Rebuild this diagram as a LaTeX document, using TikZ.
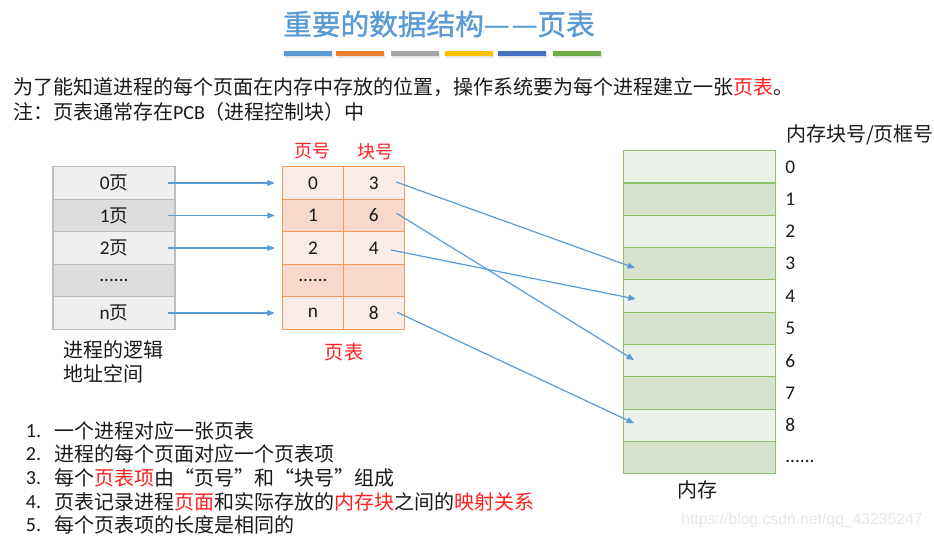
\documentclass[tikz,border=0pt]{standalone}
\usepackage{fontspec}
\setmainfont{Carlito}
\newfontfamily\cjk{Noto Sans CJK SC}
\newfontfamily\cjktitle[FakeBold=1.2]{Noto Sans CJK SC}
\newfontfamily\wmfont{Liberation Sans}
\usetikzlibrary{arrows.meta,calc}
\definecolor{tblue}{HTML}{5B9BD5}
\definecolor{barA}{HTML}{5B9BD5}
\definecolor{barB}{HTML}{ED7D31}
\definecolor{barC}{HTML}{A5A5A5}
\definecolor{barD}{HTML}{FFC000}
\definecolor{barE}{HTML}{4472C4}
\definecolor{barF}{HTML}{70AD47}
\definecolor{llight}{HTML}{EFEFEF}
\definecolor{ldark}{HTML}{DDDDDD}
\definecolor{lborder}{HTML}{BDBDBD}
\definecolor{plight}{HTML}{FBECE7}
\definecolor{pdark}{HTML}{F8D8CB}
\definecolor{pborder}{HTML}{F09A5C}
\definecolor{mlight}{HTML}{EBF0E8}
\definecolor{mdark}{HTML}{D7E3CE}
\definecolor{mborder}{HTML}{8DC26A}
\definecolor{txt}{HTML}{1A1A1A}
\definecolor{hred}{HTML}{FF2020}
\begin{document}
\begin{tikzpicture}[x=0.75pt,y=-0.75pt,
  body/.style={inner sep=0pt, outer sep=0pt, text=txt, font=\fontsize{15}{18}\selectfont},
  cellL/.style={draw=lborder, line width=0.8pt, minimum width=91.5pt, minimum height=24.4pt,
    inner sep=0pt, outer sep=0pt, text=txt, font=\fontsize{14.5}{14.5}\selectfont},
  cellP/.style={draw=pborder, line width=0.8pt, minimum width=45.6pt, minimum height=24.4pt,
    inner sep=0pt, outer sep=0pt, text=txt, font=\fontsize{14.5}{14.5}\selectfont},
  cellM/.style={draw=mborder, line width=0.8pt, minimum width=114.3pt, minimum height=24.2pt,
    inner sep=0pt, outer sep=0pt},
  memnum/.style={anchor=west, inner sep=0pt, text=txt, font=\fontsize{14.5}{14.5}\selectfont},
  redlbl/.style={inner sep=0pt, text=hred, font=\cjk\fontsize{13.5}{14}\selectfont},
  conn/.style={draw=tblue, line width=0.9pt, -{Triangle[length=5.5pt,width=4.5pt]}}
]
\useasboundingbox (0,0) rectangle (934,540);
\fill[white] (0,0) rectangle (934,540);

% title
\node[inner sep=0pt, text=tblue, font=\cjktitle\fontsize{21.5}{24}\selectfont] (title) at (439,24) {重要的数据结构—\hspace{0.08em}—页表};
% colour bars
\foreach \a/\b/\c in {284/332/barA, 336/384/barB, 391/439/barC, 445/493/barD, 498/546/barE, 553/601/barF}{
  \fill[black!10] (\a+1,52.5) rectangle (\b+1,57.5);
  \fill[\c] (\a,50.5) rectangle (\b,55.5);
}

% intro text
\node[body, anchor=west] (intro1) at (13,87.5) {\cjk 为了能知道进程的每个页面在内存中存放的位置，操作系统要为每个进程建立一张{\color{hred}页表}。};
\node[body, anchor=west] (intro2) at (13,111.5) {{\cjk 注：页表通常存在}PCB{\cjk （进程控制块）中}};

% logical address space
\node[cellL, fill=llight] (L0) at (114,183)   {0{\cjk\fontsize{14}{14}\selectfont 页}};
\node[cellL, fill=ldark]  (L1) at (114,215.5) {1{\cjk\fontsize{14}{14}\selectfont 页}};
\node[cellL, fill=llight] (L2) at (114,248)   {2{\cjk\fontsize{14}{14}\selectfont 页}};
\node[cellL, fill=ldark]  (L3) at (114,280.5) {......};
\node[cellL, fill=llight] (L4) at (114,313)   {n{\cjk\fontsize{14}{14}\selectfont 页}};
\node[body, anchor=west, align=left] (lname) at (63,362) {\cjk 进程的逻辑\\\cjk 地址空间};

% page table
\node[redlbl] (hpage) at (312,151.5) {页号};
\node[redlbl] (hblock) at (375,151.5) {块号};
\node[cellP, fill=plight] (P0) at (313,183)   {0};
\node[cellP, fill=plight] (B0) at (373.8,183) {3};
\node[cellP, fill=pdark]  (P1) at (313,215.5)   {1};
\node[cellP, fill=pdark]  (B1) at (373.8,215.5) {6};
\node[cellP, fill=plight] (P2) at (313,248)   {2};
\node[cellP, fill=plight] (B2) at (373.8,248) {4};
\node[cellP, fill=pdark]  (P3) at (313,280.5)   {......};
\node[cellP, fill=pdark]  (B3) at (373.8,280.5) {};
\node[cellP, fill=plight] (P4) at (313,313)   {n};
\node[cellP, fill=plight] (B4) at (373.8,313) {8};
\node[inner sep=0pt, text=hred, font=\cjk\fontsize{14.5}{15}\selectfont] (ptname) at (344,352) {页表};

% memory
\foreach \i/\c in {0/mlight,1/mdark,2/mlight,3/mdark,4/mlight,5/mdark,6/mlight,7/mdark,8/mlight,9/mdark}{
  \node[cellM, fill=\c] (M\i) at (699.5,{150.7+32.3*(\i+0.5)}) {};
}
\foreach \i in {0,...,8}{
  \node[memnum] (N\i) at (785,{150.7+32.3*(\i+0.5)}) {\i};
}
\node[memnum] (N9) at (785,461) {......};
\node[body, anchor=west] (memhead) at (786,135) {\cjk 内存块号/页框号};
\node[body] (memname) at (697,490) {\cjk 内存};

% arrows: logical pages -> page table
\draw[conn] ($(L0.east)+(-7,0)$) -- ($(P0.west)+(-8,0)$);
\draw[conn] ($(L1.east)+(-7,0)$) -- ($(P1.west)+(-8,0)$);
\draw[conn] ($(L2.east)+(-7,0)$) -- ($(P2.west)+(-8,0)$);
\draw[conn] ($(L4.east)+(-7,0)$) -- ($(P4.west)+(-8,0)$);

% arrows: block numbers -> memory frames
\draw[conn] ($(B0.east)+(-8,-1)$)    -- ($(M3.west)+(11.7,4.3)$);
\draw[conn] ($(B1.east)+(-7.6,-2.2)$) -- ($(M6.west)+(10.7,-0.6)$);
\draw[conn] ($(B2.east)+(-13.3,2)$)  -- ($(M4.west)+(12.4,3)$);
\draw[conn] ($(B4.east)+(-7,-0.7)$)  -- ($(M8.west)+(10.7,-2)$);

% bullet list
\foreach \n/\y in {1/430.7, 2/454, 3/478, 4/502, 5/525}{
  \node[body, anchor=west] (num\n) at (26,\y) {\n.};
}
\node[body, anchor=west] (item1) at (54.5,430.7) {\cjk 一个进程对应一张页表};
\node[body, anchor=west] (item2) at (54.5,454) {\cjk 进程的每个页面对应一个页表项};
\node[body, anchor=west] (item3) at (54.5,478) {\cjk 每个{\color{hred}页表项}由“页号”和“块号”组成};
\node[body, anchor=west] (item4) at (54.5,502) {\cjk 页表记录进程{\color{hred}页面}和实际存放的{\color{hred}内存块}之间的{\color{hred}映射关系}};
\node[body, anchor=west] (item5) at (54.5,525) {\cjk 每个页表项的长度是相同的};

% watermark
\node[inner sep=0pt, anchor=west, text=black!9, font=\wmfont\fontsize{11.8}{12}\selectfont] (wm) at (681,520) {https://blog.csdn.net/qq\_43235247};
\end{tikzpicture}
\end{document}
